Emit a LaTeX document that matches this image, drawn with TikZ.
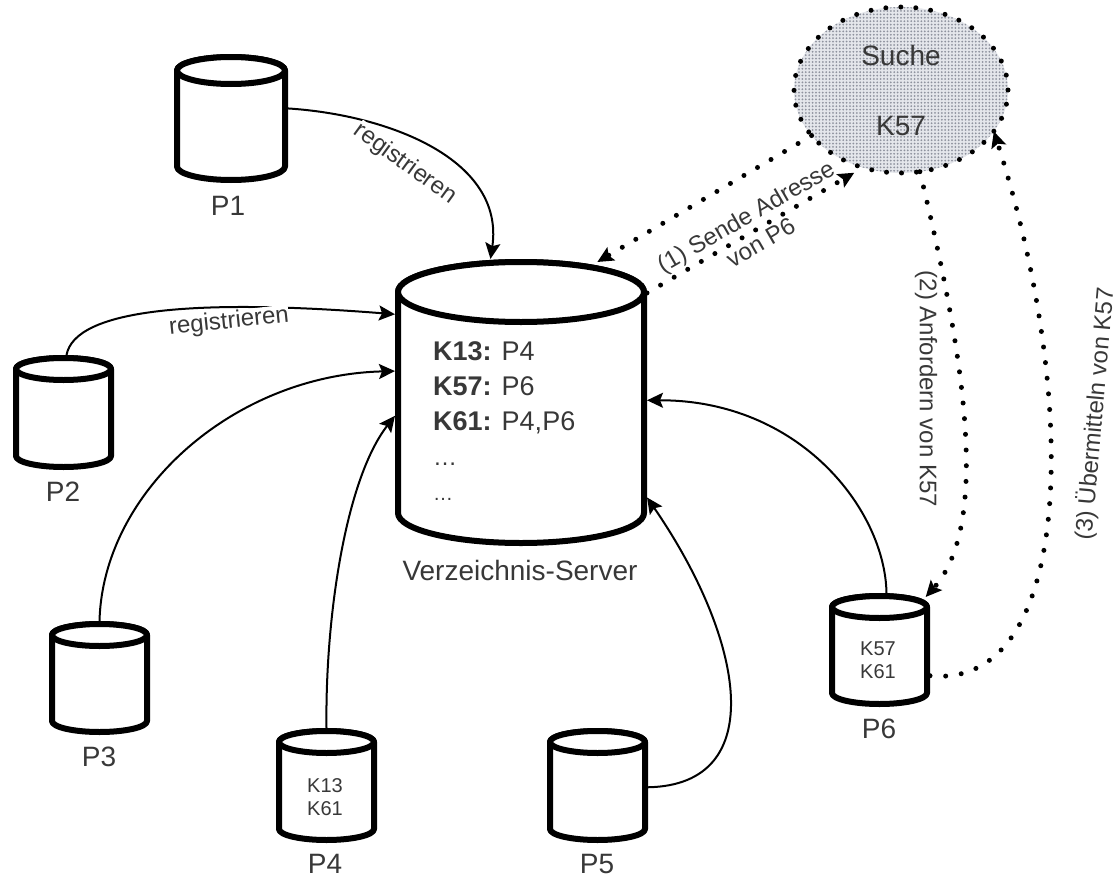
\documentclass[tikz,border=0pt]{standalone}
\usepackage{fontspec}
\setmainfont{Liberation Sans}
\usetikzlibrary{shapes.geometric,arrows.meta,patterns.meta}
\definecolor{txt}{HTML}{383838}
\definecolor{srchbase}{HTML}{E4E6EB}
\definecolor{srchdot}{HTML}{8E929E}
\newcommand{\cylnode}[6]{% name, cx, top, bottom, rx, ry (stroke centre lines)
  \pgfmathsetmacro{\cyll}{#2-#5}
  \pgfmathsetmacro{\cylu}{#3+#6}
  \pgfmathsetmacro{\cyld}{#4-#6}
  \pgfmathsetmacro{\cylm}{(#3+#4)/2}
  \pgfmathsetmacro{\cylw}{2*#5}
  \pgfmathsetmacro{\cylh}{#4-#3}
  \filldraw[cylline] (\cyll,\cylu) -- (\cyll,\cyld) arc[start angle=180,end angle=360,x radius=#5pt,y radius=#6pt] -- (#2+#5,\cylu) arc[start angle=0,end angle=180,x radius=#5pt,y radius=#6pt] -- cycle;
  \draw[cylline] (#2,\cylu) ellipse[x radius=#5pt,y radius=#6pt];
  \node[cylbox,minimum width=\cylw pt,minimum height=\cylh pt] (#1) at (#2,\cylm) {};
}
\tikzset{
  x=1pt,y=-1pt,
  cylline/.style={draw=black,fill=white,line width=6pt,line join=round},
  cylbox/.style={shape=rectangle,inner sep=0pt,outer sep=3pt},
  lab/.style={font=\fontsize{28}{32}\selectfont,text=txt,inner sep=0pt},
  keys/.style={font=\fontsize{20}{23}\selectfont,text=txt,inner sep=0pt,align=center},
  small/.style={font=\fontsize{24}{30}\selectfont,text=txt,inner sep=0pt},
  conn/.style={draw=black,line width=2pt,-{Stealth[length=16pt,width=15pt,inset=3pt]}},
  dotline/.style={draw=black,line width=5pt,line cap=round,dash pattern=on 0pt off 15.7pt,-{Stealth[length=16pt,width=15pt,inset=3pt]}},
}
\begin{document}
\begin{tikzpicture}
\useasboundingbox (0,0) rectangle (1120,878);
% cylinders
\cylnode{p1}{231}{57}{180}{54}{13.5}
\cylnode{p2}{63.5}{358}{467}{47.5}{11}
\cylnode{p3}{99.5}{624}{732}{47.5}{11}
\cylnode{p4}{326.5}{731}{840}{47.5}{11}
\cylnode{p5}{597.5}{731}{840}{47.5}{11}
\cylnode{p6}{879.5}{596}{704}{47.5}{11}
\cylnode{srv}{521}{262}{543}{123}{30}
\node[keys] (k4) at (325,797.5) {K13\\K61};
\node[keys] (k6) at (878,660.5) {K57\\K61};
\node[anchor=north west,font=\fontsize{27}{35}\selectfont,text=txt,align=left,inner sep=0pt] (srvtext) at (433,341) {\textbf{K13:} P4\\\textbf{K57:} P6\\\textbf{K61:} P4,P6\\{\fontsize{24}{35}\selectfont …}\\{\fontsize{20}{35}\selectfont …}};
% search ellipse
\node[ellipse,minimum width=214pt,minimum height=166pt,inner sep=0pt,outer sep=0pt,
  preaction={fill=srchbase},pattern={Dots[radius=1pt,distance=3.4pt]},pattern color=srchdot,
  draw=black,line width=5pt,line cap=round,dash pattern=on 0pt off 15pt,
  font=\fontsize{28}{32}\selectfont,text=txt,align=center] (search) at (901,90) {Suche\\[38pt]K57};
% labels
\node[lab] (lp1) at (228,206) {P1};
\node[lab] (lp2) at (63,492) {P2};
\node[lab] (lp3) at (99,757) {P3};
\node[lab] (lp4) at (325,864) {P4};
\node[lab] (lp5) at (597,864) {P5};
\node[lab] (lp6) at (879,729) {P6};
\node[lab] (lsrv) at (520,570) {Verzeichnis-Server};
% connectors
\draw[conn] (p1.10) .. controls (390,115) and (505,160) .. (srv.102);
\draw[conn] (p2.87) .. controls (75,310) and (190,298) .. (srv.145.5);
\draw[conn] (p3.90) .. controls (103,490) and (235,375) .. (srv.166.8);
\draw[conn] (p4.90) .. controls (325,620) and (345,480) .. (srv.186.6);
\draw[conn] (p5.-2) .. controls (770,785) and (745,640) .. (srv.-37.7);
\draw[conn] (p6.83.5) .. controls (885,510) and (800,400) .. (srv.1);
\draw[dotline] (search.207) -- ([yshift=-3pt]srv.62);
\draw[dotline] (srv.41) -- ([xshift=-3pt,yshift=-7pt]search.240);
\draw[dotline] (search.283) .. controls (958,330) and (995,520) .. ([yshift=-4pt]p6.51);
\draw[dotline] (p6.-27) .. controls (1075,690) and (1080,400) .. (search.336);
% connector labels
\node[small,rotate=-36,fill=white] (t1) at (405,164) {registrieren};
\node[small,rotate=6,fill=white] (t2) at (229,322) {registrieren};
\node[small,rotate=30,align=center] (t3) at (753,229) {(1) Sende Adresse\\von P6};
\node[small,rotate=-90] (t4) at (926,389) {(2) Anfordern von K57};
\node[small,rotate=85] (t5) at (1095,414) {(3) Übermitteln von K57};
\end{tikzpicture}
\end{document}
